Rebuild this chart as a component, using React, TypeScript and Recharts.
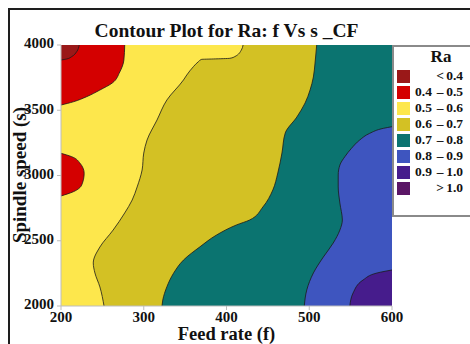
import { ComposedChart, Area, Line, XAxis, YAxis, CartesianGrid } from 'recharts';

type Edge = [number, number][]; // [spindle speed, feed rate] along one contour line

// bands on the left side, filled from feed 200 out to the edge
const darkRedEdge: Edge = [[3885, 200], [3893, 207], [3911, 213], [3949, 219], [4000, 222]];
const redTopEdge: Edge = [
  [3540, 200], [3565, 215], [3604, 231], [3655, 247], [3709, 262], [3793, 271], [3885, 276], [4000, 277],
];
const redSpotEdge: Edge = [
  [2843, 200], [2876, 215], [2927, 225], [3017, 228], [3094, 223], [3144, 213], [3170, 200],
];
const yellowEdge: Edge = [
  [2000, 252], [2146, 247], [2253, 241], [2330, 239], [2452, 247], [2582, 263], [2713, 277], [2812, 286],
  [2912, 292], [3042, 298], [3172, 300], [3272, 304], [3425, 316], [3579, 328], [3732, 348], [3770, 352],
  [3834, 360], [3872, 366], [3890, 370], [3893, 384], [3898, 404], [3911, 410], [3962, 418], [4000, 420],
];
const oliveEdge: Edge = [
  [2000, 322], [2046, 323], [2148, 328], [2251, 336], [2352, 348], [2454, 368], [2544, 388], [2621, 412],
  [2659, 428], [2759, 444], [2889, 456], [3019, 462], [3172, 467], [3326, 471], [3448, 485], [3556, 495],
  [3655, 501], [3755, 505], [3862, 507], [4000, 509],
];
// bands on the right side, filled from feed 600 back to the edge
const blueEdge: Edge = [
  [2000, 494], [2123, 497], [2253, 505], [2375, 517], [2483, 529], [2582, 537], [2659, 540], [2789, 537],
  [2912, 535], [3004, 535], [3080, 537], [3144, 543], [3208, 551], [3272, 561], [3323, 573], [3362, 590],
  [3374, 600],
];
const violetEdge: Edge = [[2000, 549], [2100, 553], [2199, 565], [2253, 582], [2276, 600]];

const feedTicks = [200, 300, 400, 500, 600];
const speedTicks = [2000, 2500, 3000, 3500, 4000];

const bandLow = ['', '0.4', '0.5', '0.6', '0.7', '0.8', '0.9', ''];
const bandSep = ['<', '–', '–', '–', '–', '–', '–', '>'];
const bandHigh = ['0.4', '0.5', '0.6', '0.7', '0.8', '0.9', '1.0', '1.0'];
const bandColors = ['#9a1818', '#d40000', '#fde74c', '#d3c124', '#0b7470', '#3e55bf', '#461c8c', '#5b1666'];

const FONT = '"Liberation Serif", "Times New Roman", serif';

const fills = [
  { id: 'blue', edge: blueEdge, color: bandColors[5], base: 600 },
  { id: 'violet', edge: violetEdge, color: bandColors[6], base: 600 },
  { id: 'olive', edge: oliveEdge, color: bandColors[3], base: 200 },
  { id: 'yellow', edge: yellowEdge, color: bandColors[2], base: 200 },
  { id: 'redTop', edge: redTopEdge, color: bandColors[1], base: 200 },
  { id: 'redSpot', edge: redSpotEdge, color: bandColors[1], base: 200 },
  { id: 'darkRed', edge: darkRedEdge, color: bandColors[0], base: 200 },
];

const toRows = (edge: Edge) => edge.map(([s, f]) => ({ s, f }));

const tickStyle = { fontFamily: FONT, fontWeight: 700, fontSize: 15, fill: '#111' };

const Key = () => (
  <div
    style={{
      position: 'absolute', left: 392, top: 45, width: 100, height: 168,
      borderTop: '2px solid #8a8a8a', borderLeft: '2px solid #8a8a8a', borderBottom: '2px solid #8a8a8a',
      background: '#fff', fontFamily: FONT, fontWeight: 700, color: '#111',
    }}
  >
    <div style={{ position: 'absolute', left: 0, width: 94, top: 0, textAlign: 'center', fontSize: 17, lineHeight: '20px' }}>Ra</div>
    {bandColors.map((c, i) => (
      <div key={i} style={{ position: 'absolute', left: 0, top: 21 + i * 16, height: 16, width: 100, fontSize: 13.5, lineHeight: '16px' }}>
        <div style={{ position: 'absolute', left: 3, top: 2, width: 13, height: 13, background: c }} />
        <span style={{ position: 'absolute', left: 21 }}>{bandLow[i]}</span>
        <span style={{ position: 'absolute', left: 38, width: 16, textAlign: 'center' }}>{bandSep[i]}</span>
        <span style={{ position: 'absolute', right: 31 }}>{bandHigh[i]}</span>
      </div>
    ))}
  </div>
);

export default function App() {
  return (
    <div style={{ position: 'absolute', left: 0, top: 0, width: 470, height: 344, overflow: 'hidden', background: '#fff' }}>
      <div style={{ position: 'absolute', left: 8, top: 8, width: 500, height: 400, borderTop: '2px solid #1e1e1e', borderLeft: '2px solid #1e1e1e' }} />
      <ComposedChart layout="vertical" width={470} height={344} margin={{ top: 45, right: 78, bottom: 8, left: 11 }}>
        <CartesianGrid horizontal={false} vertical={false} stroke="none" fill={bandColors[4]} fillOpacity={1} />
        <XAxis
          type="number"
          domain={[200, 600]}
          ticks={feedTicks}
          allowDataOverflow
          height={30}
          tickSize={4}
          tickMargin={1}
          stroke="#bdbdbd"
          tick={tickStyle}
        />
        <YAxis
          type="number"
          dataKey="s"
          domain={[2000, 4000]}
          ticks={speedTicks}
          allowDataOverflow
          reversed
          width={50}
          tickSize={4}
          tickMargin={3}
          stroke="#bdbdbd"
          tick={{ ...tickStyle, dy: -2 }}
        />
        {fills.map((b) => (
          <Area
            key={b.id}
            data={toRows(b.edge)}
            dataKey="f"
            type="monotone"
            baseValue={b.base}
            fill={b.color}
            fillOpacity={1}
            stroke="none"
            dot={false}
            activeDot={false}
            isAnimationActive={false}
          />
        ))}
        {fills.map((b) => (
          <Line
            key={b.id + '-line'}
            data={toRows(b.edge)}
            dataKey="f"
            type="monotone"
            stroke="#1a1a1a"
            strokeWidth={0.8}
            dot={false}
            activeDot={false}
            isAnimationActive={false}
          />
        ))}
      </ComposedChart>
      <div style={{ position: 'absolute', left: 61, width: 331, top: 21, textAlign: 'center', fontFamily: FONT, fontWeight: 700, fontSize: 19.5, lineHeight: '19.5px', color: '#111', whiteSpace: 'nowrap' }}>
        Contour Plot for Ra: f Vs s _CF
      </div>
      <div style={{ position: 'absolute', left: 61, width: 331, top: 328, height: 13, textAlign: 'center', fontFamily: FONT, fontWeight: 700, fontSize: 18.5, lineHeight: '13px', color: '#111' }}>
        Feed rate (f)
      </div>
      <div style={{ position: 'absolute', left: 20 - 100, top: 175 - 12, width: 200, height: 24, textAlign: 'center', transform: 'rotate(-90deg)', fontFamily: FONT, fontWeight: 700, fontSize: 19, lineHeight: '24px', color: '#111' }}>
        Spindle speed (s)
      </div>
      <Key />
    </div>
  );
}
